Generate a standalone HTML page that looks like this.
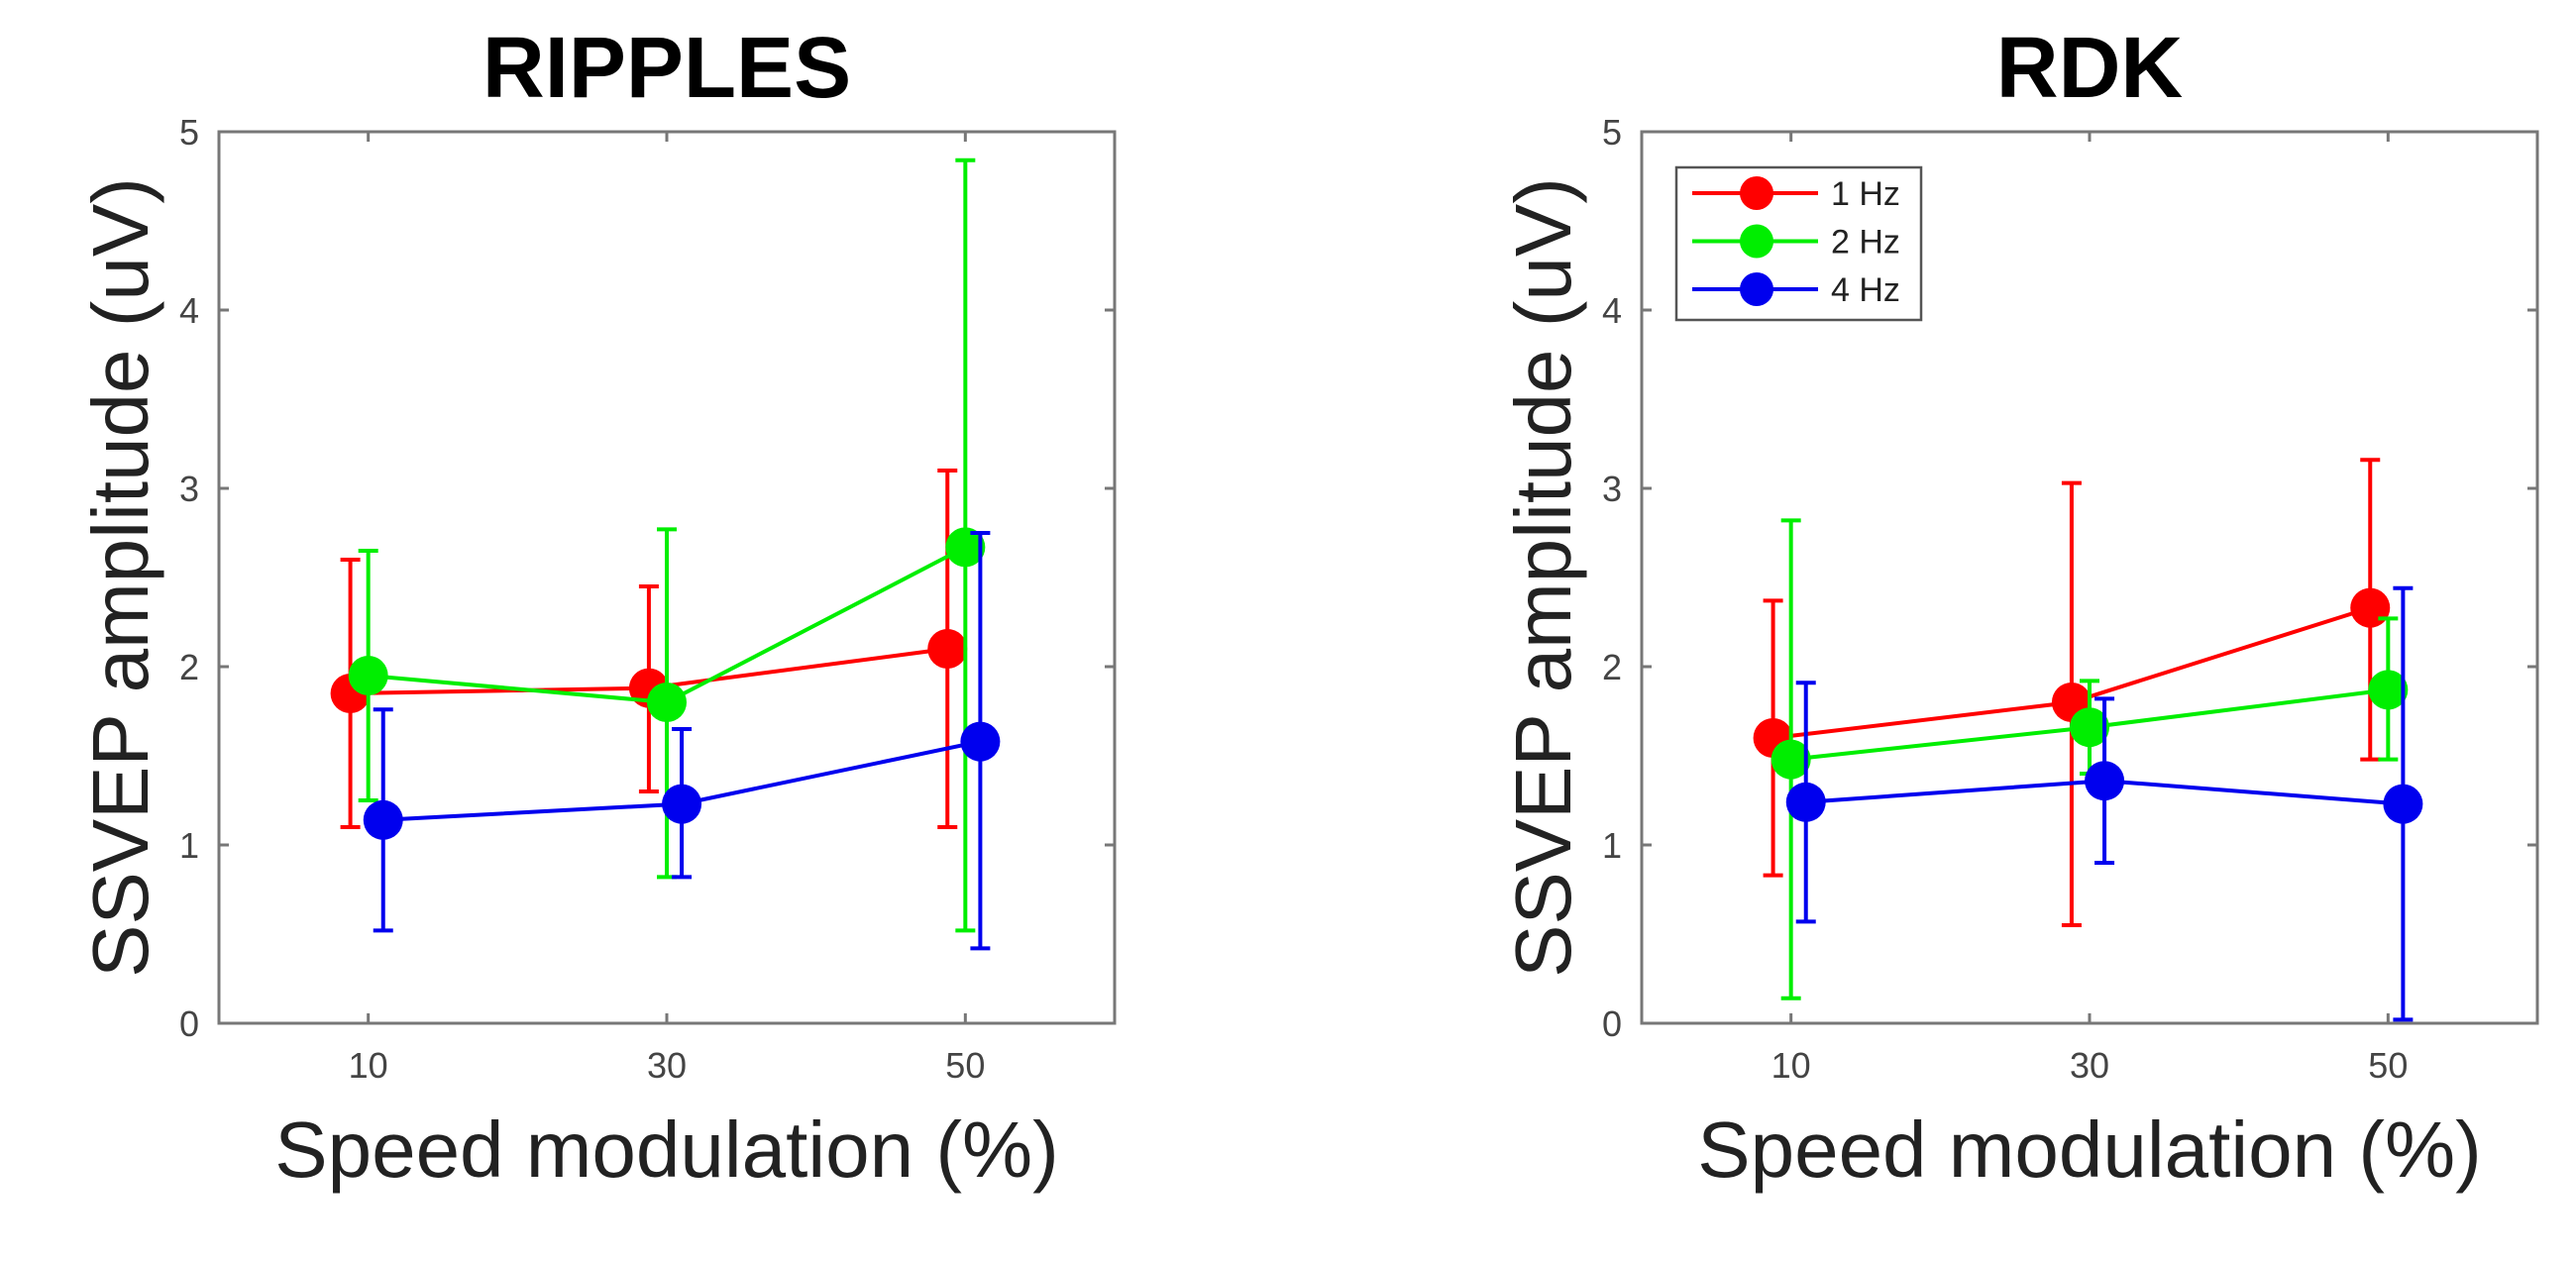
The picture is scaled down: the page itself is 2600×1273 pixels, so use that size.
<!DOCTYPE html>
<html><head><meta charset="utf-8"><style>body{margin:0;background:#fff}svg{display:block}text{font-family:"Liberation Sans",sans-serif}</style></head>
<body>
<svg id="chart" width="2600" height="1273" viewBox="0 0 2600 1273" xmlns="http://www.w3.org/2000/svg"></svg>
<script>
const xCats = [10, 30, 50];
const yTicks = [0, 1, 2, 3, 4, 5];
const seriesNames = ["1 Hz", "2 Hz", "4 Hz"];
const seriesColors = ["#ff0000", "#00ee00", "#0000ee"];
const seriesOffsets = [-1.2, 0, 1];
// RIPPLES
const ripRed = [1.85, 1.88, 2.1];
const ripRedLo = [1.1, 1.3, 1.1];
const ripRedHi = [2.6, 2.45, 3.1];
const ripGreen = [1.95, 1.8, 2.67];
const ripGreenLo = [1.25, 0.82, 0.52];
const ripGreenHi = [2.65, 2.77, 4.84];
const ripBlue = [1.14, 1.23, 1.58];
const ripBlueLo = [0.52, 0.82, 0.42];
const ripBlueHi = [1.76, 1.65, 2.75];
// RDK
const rdkRed = [1.6, 1.8, 2.33];
const rdkRedLo = [0.83, 0.55, 1.48];
const rdkRedHi = [2.37, 3.03, 3.16];
const rdkGreen = [1.48, 1.66, 1.87];
const rdkGreenLo = [0.14, 1.4, 1.48];
const rdkGreenHi = [2.82, 1.92, 2.27];
const rdkBlue = [1.24, 1.36, 1.23];
const rdkBlueLo = [0.57, 0.9, 0.02];
const rdkBlueHi = [1.91, 1.82, 2.44];

const NS = "http://www.w3.org/2000/svg";
const svg = document.getElementById("chart");
function mk(tag, attrs, parent, txt) {
  const e = document.createElementNS(NS, tag);
  for (const k in attrs) e.setAttribute(k, attrs[k]);
  if (txt !== undefined) e.textContent = txt;
  (parent || svg).appendChild(e);
  return e;
}
function panel(left, title, key, data, legend) {
  const top = 133, W = 904, H = 900, bottom = top + H, right = left + W;
  const xs = v => left + (v - 0) / 60 * W;
  const ys = v => bottom - v / 5 * H;
  const g = mk("g", {});
  
  
  const t = mk("text", {x: left + W / 2, y: 98, "text-anchor": "middle", "font-size": 87, "font-weight": "bold", fill: "#000"}, g, title);
  
  
  const box = mk("rect", {x: left, y: top, width: W, height: H, fill: "#fff", stroke: "#777", "stroke-width": 3}, g);
  
  
  yTicks.forEach(v => {
    mk("line", {x1: left, x2: left + 10, y1: ys(v), y2: ys(v), stroke: "#777", "stroke-width": 3}, g);
    mk("line", {x1: right, x2: right - 10, y1: ys(v), y2: ys(v), stroke: "#777", "stroke-width": 3}, g);
    const l = mk("text", {x: left - 20, y: ys(v) + 13, "text-anchor": "end", "font-size": 36, fill: "#444"}, g, v);
    
    
  });
  xCats.forEach(v => {
    mk("line", {x1: xs(v), x2: xs(v), y1: bottom, y2: bottom - 10, stroke: "#777", "stroke-width": 3}, g);
    mk("line", {x1: xs(v), x2: xs(v), y1: top, y2: top + 10, stroke: "#777", "stroke-width": 3}, g);
    const l = mk("text", {x: xs(v), y: 1088, "text-anchor": "middle", "font-size": 36, fill: "#444"}, g, v);
    
    
  });
  const xl = mk("text", {x: left + W / 2, y: 1188, "text-anchor": "middle", "font-size": 80, fill: "#222"}, g, "Speed modulation (%)");
  
  
  const yl = mk("text", {x: 0, y: 0, "text-anchor": "middle", "font-size": 80, fill: "#222", transform: `translate(${left - 72},${top + H / 2}) rotate(-90)`}, g, "SSVEP amplitude (uV)");
  
  
  data.forEach((s, si) => {
    const col = seriesColors[si], off = seriesOffsets[si];
    const sg = mk("g", {}, g);
    
    
    s.v.forEach((v, i) => {
      const x = xs(xCats[i] + off);
      mk("line", {x1: x, x2: x, y1: ys(s.lo[i]), y2: ys(s.hi[i]), stroke: col, "stroke-width": 4}, sg);
      mk("line", {x1: x - 10, x2: x + 10, y1: ys(s.lo[i]), y2: ys(s.lo[i]), stroke: col, "stroke-width": 4}, sg);
      mk("line", {x1: x - 10, x2: x + 10, y1: ys(s.hi[i]), y2: ys(s.hi[i]), stroke: col, "stroke-width": 4}, sg);
    });
    const pts = s.v.map((v, i) => xs(xCats[i] + off) + "," + ys(v)).join(" ");
    mk("polyline", {points: pts, fill: "none", stroke: col, "stroke-width": 4}, sg);
    s.v.forEach((v, i) => {
      const c = mk("circle", {cx: xs(xCats[i] + off), cy: ys(v), r: 20, fill: col}, sg);
      
      
    });
  });
  if (legend) {
    const lg = mk("g", {}, g);
    
    
    mk("rect", {x: 1692, y: 169, width: 247, height: 154, fill: "#fff", stroke: "#555", "stroke-width": 2.5}, lg);
    seriesNames.forEach((n, i) => {
      const y = 195 + i * 48.5;
      const e = mk("g", {}, lg);
      
      
      mk("line", {x1: 1708, x2: 1835, y1: y, y2: y, stroke: seriesColors[i], "stroke-width": 4}, e);
      mk("circle", {cx: 1773, cy: y, r: 17, fill: seriesColors[i]}, e);
      mk("text", {x: 1848, y: y + 12, "font-size": 34, fill: "#222"}, e, n);
    });
  }
}
panel(221, "RIPPLES", "ripples", [
  {v: ripRed, lo: ripRedLo, hi: ripRedHi},
  {v: ripGreen, lo: ripGreenLo, hi: ripGreenHi},
  {v: ripBlue, lo: ripBlueLo, hi: ripBlueHi}], false);
panel(1657, "RDK", "rdk", [
  {v: rdkRed, lo: rdkRedLo, hi: rdkRedHi},
  {v: rdkGreen, lo: rdkGreenLo, hi: rdkGreenHi},
  {v: rdkBlue, lo: rdkBlueLo, hi: rdkBlueHi}], true);
</script>
</body></html>
